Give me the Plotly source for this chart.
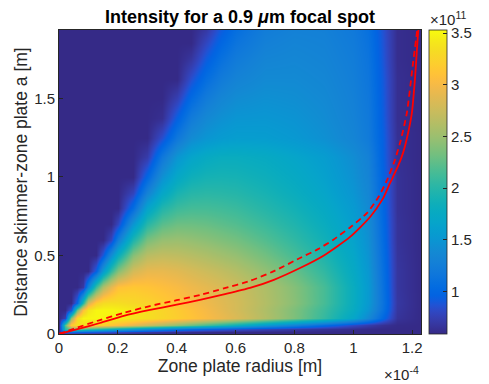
import plotly.graph_objects as go

# ---- data (x in 1e-4 m, y in m, intensity in 1e11) ----
x_grid = [0, 0.02, 0.04, 0.06, 0.08, 0.1, 0.125, 0.15, 0.175, 0.2, 0.25, 0.3, 0.35, 0.4, 0.45, 0.5,
          0.55, 0.6, 0.7, 0.8, 0.9, 1.0, 1.05, 1.1, 1.15, 1.23]
y_grid = [0, 0.015, 0.03, 0.06, 0.1, 0.15, 0.2, 0.3, 0.4, 0.5, 0.6, 0.7, 0.8, 0.9, 1.0, 1.125,
          1.25, 1.375, 1.5, 1.625, 1.75, 1.85, 1.935]
D = 0.59  # background level
# each row lists the readings from the right end backwards to where the dark background starts
row_readings = [
    [],
    [1.0, 1.05, 1.0, 0.97, 0.94, 0.9, 0.87, 0.84, 0.8, 0.74, 0.69, 0.66, 0.63, 0.61, 0.6, D, D, D, D, D, D, D, D, D, D],
    [2.0, 2.3, 2.3, 2.2, 2.1, 2.0, 1.9, 1.8, 1.7, 1.55, 1.4, 1.27, 1.15, 1.05, 0.98, 0.92, 0.86, 0.77, 0.7, 0.65, 0.62, 0.6, D, D, D],
    [2.2, 3.2, 3.35, 3.35, 3.3, 3.25, 3.2, 3.12, 3.05, 2.9, 2.75, 2.6, 2.45, 2.3, 2.15, 2.0, 1.85, 1.55, 1.3, 1.05, 0.82, 0.72, 0.64, 0.6, D],
    [0.75, 2.4, 3.3, 3.5, 3.5, 3.5, 3.5, 3.47, 3.45, 3.4, 3.35, 3.28, 3.2, 3.12, 3.03, 2.94, 2.84, 2.62, 2.37, 2.07, 1.7, 1.38, 1.0, 0.66, D],
    [0.9, 2.3, 3.1, 3.4, 3.5, 3.5, 3.5, 3.48, 3.42, 3.35, 3.27, 3.18, 3.09, 3.0, 2.9, 2.8, 2.6, 2.37, 2.1, 1.78, 1.5, 1.1, 0.68, D],
    [1.0, 2.0, 2.8, 3.2, 3.33, 3.35, 3.34, 3.3, 3.25, 3.18, 3.1, 3.03, 2.96, 2.88, 2.8, 2.62, 2.42, 2.15, 1.8, 1.54, 1.12, 0.69, D],
    [0.7, 1.3, 2.1, 2.6, 2.9, 3.1, 3.15, 3.12, 3.07, 3.02, 2.96, 2.9, 2.83, 2.76, 2.6, 2.4, 2.15, 1.8, 1.55, 1.1, 0.68, D],
    [0.95, 1.55, 2.05, 2.4, 2.8, 2.92, 2.92, 2.88, 2.82, 2.76, 2.7, 2.63, 2.46, 2.28, 2.05, 1.75, 1.52, 1.08, 0.68, D],
    [0.9, 1.4, 1.8, 2.4, 2.65, 2.7, 2.68, 2.64, 2.59, 2.53, 2.47, 2.32, 2.15, 1.95, 1.7, 1.48, 1.06, 0.67, D],
    [0.8, 1.25, 1.95, 2.35, 2.48, 2.5, 2.47, 2.43, 2.38, 2.33, 2.2, 2.05, 1.87, 1.65, 1.45, 1.04, 0.66, D],
    [0.8, 1.5, 2.0, 2.22, 2.3, 2.3, 2.28, 2.24, 2.2, 2.09, 1.96, 1.8, 1.6, 1.42, 1.02, 0.66, D],
    [1.05, 1.65, 1.97, 2.1, 2.14, 2.14, 2.12, 2.09, 1.99, 1.88, 1.74, 1.55, 1.39, 1.0, 0.65, D],
    [0.78, 1.3, 1.7, 1.92, 2.0, 2.02, 2.01, 1.99, 1.91, 1.81, 1.68, 1.5, 1.35, 0.98, 0.65, D],
    [1.0, 1.45, 1.72, 1.85, 1.9, 1.91, 1.9, 1.84, 1.75, 1.63, 1.46, 1.32, 0.97, 0.65, D],
    [0.72, 1.18, 1.5, 1.67, 1.76, 1.8, 1.8, 1.76, 1.68, 1.58, 1.42, 1.29, 0.95, 0.64, D],
    [0.85, 1.18, 1.4, 1.5, 1.56, 1.59, 1.58, 1.53, 1.45, 1.33, 1.22, 0.94, 0.64, D],
    [0.63, 0.95, 1.22, 1.37, 1.45, 1.5, 1.51, 1.48, 1.41, 1.3, 1.2, 0.92, 0.63, D],
    [0.75, 1.03, 1.22, 1.34, 1.41, 1.45, 1.43, 1.38, 1.28, 1.18, 0.91, 0.63, D],
    [0.85, 1.07, 1.22, 1.31, 1.39, 1.39, 1.35, 1.26, 1.16, 0.9, 0.63, D],
    [0.68, 0.92, 1.1, 1.22, 1.33, 1.35, 1.32, 1.24, 1.14, 0.88, 0.62, D],
    [0.8, 1.0, 1.14, 1.28, 1.32, 1.3, 1.22, 1.12, 0.87, 0.62, D],
    [0.7, 0.92, 1.08, 1.24, 1.29, 1.28, 1.2, 1.1, 0.86, 0.62, D],
]
z_rows = [[D] * (len(x_grid) - len(r)) + r for r in row_readings]

solid_x = [0, 0.05, 0.139, 0.22, 0.309, 0.4, 0.479, 0.56, 0.649, 0.73, 0.819, 0.9, 0.989, 1.057,
           1.1, 1.125, 1.15, 1.169, 1.185, 1.199, 1.210, 1.220, 1.222]
solid_y = [0, 0.025, 0.070, 0.115, 0.153, 0.187, 0.217, 0.252, 0.293, 0.345, 0.42, 0.5, 0.618, 0.745,
           0.86, 0.962, 1.06, 1.153, 1.27, 1.408, 1.637, 1.917, 1.95]
dash_x = [0, 0.05, 0.139, 0.22, 0.309, 0.4, 0.479, 0.56, 0.649, 0.73, 0.819, 0.88, 0.931, 0.99,
          1.047, 1.085, 1.115, 1.14, 1.159, 1.182, 1.203, 1.216, 1.218]
dash_y = [0, 0.033, 0.089, 0.135, 0.178, 0.215, 0.248, 0.29, 0.338, 0.40, 0.484, 0.54, 0.599, 0.68,
          0.771, 0.87, 0.981, 1.1, 1.217, 1.408, 1.726, 1.917, 1.95]

x_ticks = [0, 0.2, 0.4, 0.6, 0.8, 1.0, 1.2]
x_ticklabels = ["0", "0.2", "0.4", "0.6", "0.8", "1", "1.2"]
y_ticks = [0, 0.5, 1.0, 1.5]
y_ticklabels = ["0", "0.5", "1", "1.5"]
c_ticks = [1, 1.5, 2, 2.5, 3, 3.5]
c_ticklabels = ["1", "1.5", "2", "2.5", "3", "3.5"]

# ---- parula colormap ----
parula = [
    [0.2081, 0.1663, 0.5292], [0.2116, 0.1898, 0.5777], [0.2123, 0.2138, 0.6270], [0.2081, 0.2386, 0.6771],
    [0.1959, 0.2645, 0.7279], [0.1707, 0.2919, 0.7792], [0.1253, 0.3242, 0.8303], [0.0591, 0.3598, 0.8683],
    [0.0117, 0.3875, 0.8820], [0.0060, 0.4086, 0.8828], [0.0165, 0.4266, 0.8786], [0.0329, 0.4430, 0.8720],
    [0.0498, 0.4586, 0.8641], [0.0629, 0.4737, 0.8554], [0.0723, 0.4887, 0.8467], [0.0779, 0.5040, 0.8384],
    [0.0793, 0.5200, 0.8312], [0.0749, 0.5375, 0.8263], [0.0641, 0.5570, 0.8240], [0.0488, 0.5772, 0.8228],
    [0.0343, 0.5966, 0.8199], [0.0265, 0.6137, 0.8135], [0.0239, 0.6287, 0.8038], [0.0231, 0.6418, 0.7913],
    [0.0228, 0.6535, 0.7768], [0.0267, 0.6642, 0.7607], [0.0384, 0.6743, 0.7436], [0.0590, 0.6838, 0.7254],
    [0.0843, 0.6928, 0.7062], [0.1133, 0.7015, 0.6859], [0.1453, 0.7098, 0.6646], [0.1801, 0.7177, 0.6424],
    [0.2178, 0.7250, 0.6193], [0.2586, 0.7317, 0.5954], [0.3022, 0.7376, 0.5712], [0.3482, 0.7424, 0.5473],
    [0.3953, 0.7459, 0.5244], [0.4420, 0.7481, 0.5033], [0.4871, 0.7491, 0.4840], [0.5300, 0.7491, 0.4661],
    [0.5709, 0.7485, 0.4494], [0.6099, 0.7473, 0.4337], [0.6473, 0.7456, 0.4188], [0.6834, 0.7435, 0.4044],
    [0.7184, 0.7411, 0.3905], [0.7525, 0.7384, 0.3768], [0.7858, 0.7356, 0.3633], [0.8185, 0.7327, 0.3498],
    [0.8507, 0.7299, 0.3360], [0.8824, 0.7274, 0.3217], [0.9139, 0.7258, 0.3063], [0.9450, 0.7261, 0.2886],
    [0.9739, 0.7314, 0.2666], [0.9938, 0.7455, 0.2403], [0.9990, 0.7653, 0.2164], [0.9955, 0.7861, 0.1967],
    [0.9880, 0.8066, 0.1794], [0.9789, 0.8271, 0.1633], [0.9697, 0.8481, 0.1475], [0.9626, 0.8705, 0.1309],
    [0.9589, 0.8949, 0.1132], [0.9598, 0.9218, 0.0948], [0.9661, 0.9514, 0.0755], [0.9763, 0.9831, 0.0538],
]
n = len(parula)
colorscale = [[i / (n - 1), "rgb(%d,%d,%d)" % tuple(round(c * 255) for c in col)] for i, col in enumerate(parula)]

TXT = "#262626"
FONT = "Liberation Sans, Arial, Helvetica, sans-serif"

fig = go.Figure()
fig.add_trace(go.Heatmap(
    x=x_grid, y=y_grid, z=z_rows, zsmooth="best", colorscale=colorscale,
    zmin=0.59, zmax=3.53, hoverinfo="skip",
    colorbar=dict(
        x=1.022, xanchor="left", xpad=0, y=0.5, yanchor="middle", len=1.0, lenmode="fraction",
        thickness=18, ypad=0, outlinecolor=TXT, outlinewidth=0.8,
        tickvals=c_ticks, ticktext=c_ticklabels, ticks="inside", ticklen=4, tickcolor=TXT,
        tickfont=dict(size=15, color=TXT, family=FONT),
    ),
))
fig.add_trace(go.Scatter(x=solid_x, y=solid_y, mode="lines",
                         line=dict(color="#ff0000", width=1.8, shape="spline", smoothing=0.6),
                         showlegend=False, hoverinfo="skip"))
fig.add_trace(go.Scatter(x=dash_x, y=dash_y, mode="lines",
                         line=dict(color="#ff0000", width=1.8, dash="6px,4px", shape="spline", smoothing=0.6),
                         showlegend=False, hoverinfo="skip"))

fig.update_layout(
    width=489, height=384, margin=dict(l=59, r=68, t=30, b=50),
    paper_bgcolor="white", plot_bgcolor="white",
    font=dict(family=FONT, color=TXT, size=15),
    title=dict(text="Intensity for a 0.9 <i>μ</i>m focal spot", x=240 / 489, xanchor="center",
               y=1 - 17 / 384, yanchor="middle", font=dict(size=18, color="#000000", family=FONT, weight="bold")),
    xaxis=dict(range=[0, 1.23], tickvals=x_ticks, ticktext=x_ticklabels, ticks="inside", ticklen=4,
               tickcolor=TXT, showline=True, linecolor=TXT, linewidth=1, mirror=True, showgrid=False,
               zeroline=False, tickfont=dict(size=15, color=TXT),
               title=dict(text="Zone plate radius [m]", font=dict(size=17.5, color=TXT), standoff=4)),
    yaxis=dict(range=[0, 1.935], tickvals=y_ticks, ticktext=y_ticklabels, ticks="inside", ticklen=4,
               tickcolor=TXT, showline=True, linecolor=TXT, linewidth=1, mirror=True, showgrid=False,
               zeroline=False, tickfont=dict(size=15, color=TXT),
               title=dict(text="Distance skimmer-zone plate a [m]", font=dict(size=17.5, color=TXT), standoff=2)),
    annotations=[
        dict(text="×10<sup>-4</sup>", xref="paper", yref="paper", x=1.0, y=-0.13, xanchor="right",
             yanchor="middle", showarrow=False, font=dict(size=15, color=TXT)),
        dict(text="×10<sup>11</sup>", xref="paper", yref="paper", x=1.02, y=1.0, xanchor="left",
             yanchor="bottom", showarrow=False, font=dict(size=15, color=TXT)),
    ],
)

fig.write_html("out.html")
